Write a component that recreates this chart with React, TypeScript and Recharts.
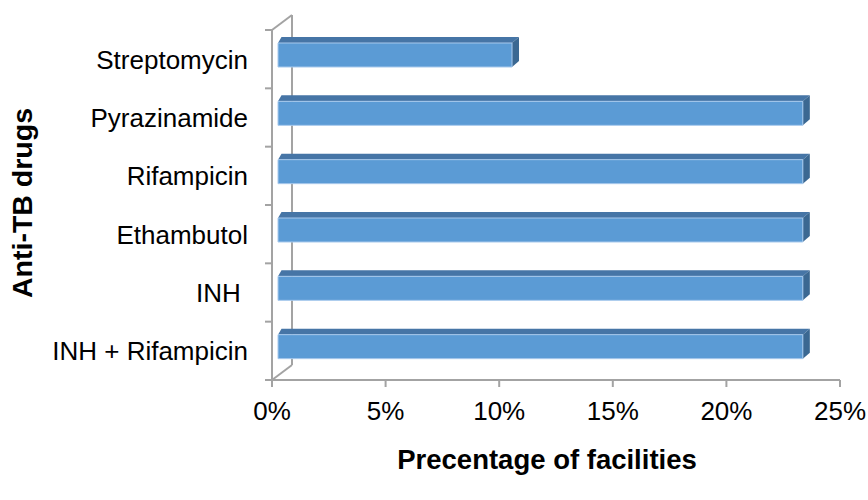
import React from 'react';
import { BarChart, Bar, XAxis, YAxis, Customized } from 'recharts';

const categories = ['Streptomycin', 'Pyrazinamide', 'Rifampicin', 'Ethambutol', 'INH ', 'INH + Rifampicin'];
const percentages = [10.3, 23.1, 23.1, 23.1, 23.1, 23.1];
const xTicks = [0, 5, 10, 15, 20, 25];

const data = categories.map((c, i) => ({ name: c, value: percentages[i] }));

const W = 868;
const H = 500;
const MARGIN = { top: 30, right: 28, left: 0, bottom: 90 };
const YAXIS_W = 272;
const XAXIS_H = 30;
const PLOT_L = MARGIN.left + YAXIS_W;
const PLOT_T = MARGIN.top;
const PLOT_B = H - MARGIN.bottom - XAXIS_H;
const DEPTH_X = 20;
const DEPTH_Y = 15;
const AXIS_COLOR = '#a3a3a3';
const FONT = 'Liberation Sans, Arial, sans-serif';

const Bar3D = (props: any) => {
  const { x, y, width, height } = props;
  if (!width || width <= 0) return null;
  const x0 = x + 6;
  const y0 = y - 4;
  const dx = 7;
  const dy = 6;
  const front = `M${x0},${y0} h${width} v${height} h${-width} Z`;
  const top = `M${x0},${y0} L${x0 + dx / 2},${y0 - dy} L${x0 + width + dx},${y0 - dy} L${x0 + width},${y0} Z`;
  const side = `M${x0 + width},${y0} L${x0 + width + dx},${y0 - dy} L${x0 + width + dx},${y0 + height - dy} L${x0 + width},${y0 + height} Z`;
  return (
    <g>
      <path d={top} fill="#4675a6" />
      <path d={side} fill="#3b6892" />
      <path d={front} fill="#5b9bd5" stroke="#a8c9ec" strokeWidth={1} />
    </g>
  );
};

const CategoryTick = (props: any) => {
  const { x, y, payload } = props;
  return (
    <text
      x={x}
      y={y}
      dy="0.36em"
      textAnchor="end"
      fontSize={26}
      fontFamily={FONT}
      fill="#000"
      style={{ whiteSpace: 'pre' }}
    >
      {payload.value}
    </text>
  );
};

const Decorations = () => {
  const n = categories.length;
  const band = (PLOT_B - PLOT_T) / n;
  const ticks = [];
  for (let i = 0; i <= n; i++) {
    const yy = PLOT_T + band * i;
    ticks.push(<line key={i} x1={PLOT_L - 7} x2={PLOT_L} y1={yy} y2={yy} stroke={AXIS_COLOR} strokeWidth={2} />);
  }
  return (
    <g>
      <line x1={PLOT_L} y1={PLOT_T} x2={PLOT_L + DEPTH_X} y2={PLOT_T - DEPTH_Y} stroke={AXIS_COLOR} strokeWidth={2} />
      <line x1={PLOT_L + DEPTH_X} y1={PLOT_T - DEPTH_Y} x2={PLOT_L + DEPTH_X} y2={PLOT_B - DEPTH_Y} stroke={AXIS_COLOR} strokeWidth={2} />
      <line x1={PLOT_L + DEPTH_X} y1={PLOT_B - DEPTH_Y} x2={PLOT_L} y2={PLOT_B} stroke={AXIS_COLOR} strokeWidth={2} />
      {ticks}
      <text x={547} y={459} dy="0.36em" textAnchor="middle" fontSize={27.5} fontWeight="bold" fontFamily={FONT} fill="#000">
        Precentage of facilities
      </text>
      <text
        x={22}
        y={203}
        dy="0.36em"
        textAnchor="middle"
        fontSize={28.5}
        fontWeight="bold"
        fontFamily={FONT}
        fill="#000"
        transform={`rotate(-90, 22, 203)`}
      >
        Anti-TB drugs
      </text>
    </g>
  );
};

export default function App() {
  return (
    <div style={{ position: 'absolute', left: 0, top: 0, width: W, height: H, background: '#fff' }}>
      <BarChart width={W} height={H} data={data} layout="vertical" margin={MARGIN} barSize={24}>
        <Customized component={Decorations} />
        <XAxis
          type="number"
          domain={[0, 25]}
          ticks={xTicks}
          tickFormatter={(v: number) => `${v}%`}
          height={XAXIS_H}
          axisLine={{ stroke: AXIS_COLOR, strokeWidth: 2 }}
          tickLine={{ stroke: AXIS_COLOR, strokeWidth: 2 }}
          tickSize={7}
          tickMargin={15}
          tick={{ fontSize: 26, fontFamily: FONT, fill: '#000' }}
          interval={0}
          allowDataOverflow
        />
        <YAxis
          type="category"
          dataKey="name"
          width={YAXIS_W}
          axisLine={{ stroke: AXIS_COLOR, strokeWidth: 2 }}
          tickLine={false}
          tickSize={0}
          tickMargin={24}
          tick={<CategoryTick />}
          interval={0}
        />
        <Bar dataKey="value" shape={<Bar3D />} isAnimationActive={false} />
      </BarChart>
    </div>
  );
}
